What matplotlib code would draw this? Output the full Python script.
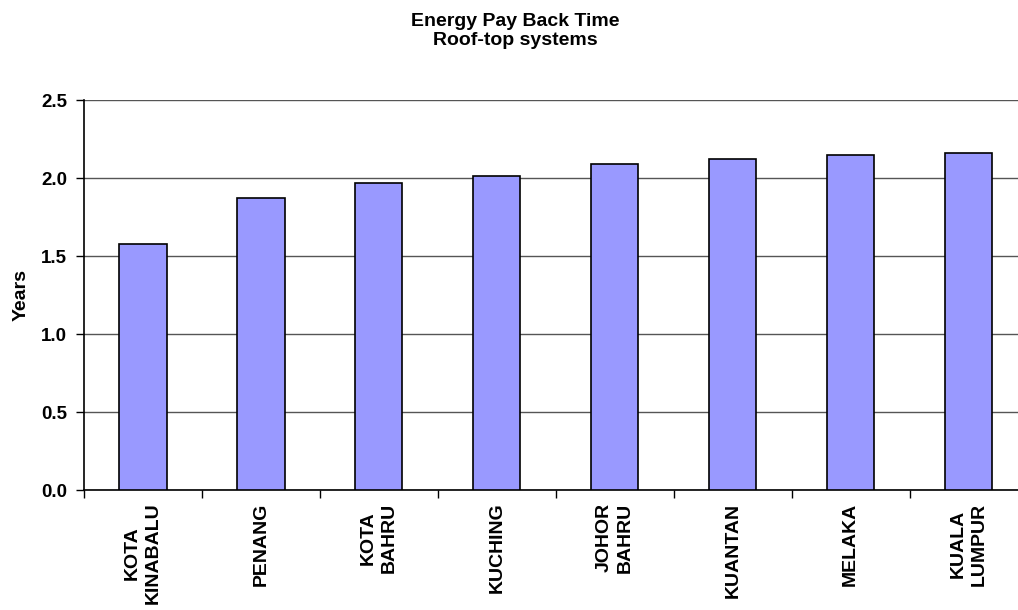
import numpy as np
import matplotlib.pyplot as plt

# energy pay back time per city, roof-top PV systems
cities = ['KOTA\nKINABALU', 'PENANG', 'KOTA\nBAHRU', 'KUCHING',
          'JOHOR\nBAHRU', 'KUANTAN', 'MELAKA', 'KUALA\nLUMPUR']
years = [1.58, 1.87, 1.97, 2.01, 2.09, 2.12, 2.15, 2.16]
yticks = [0.0, 0.5, 1.0, 1.5, 2.0, 2.5]

plt.rcParams['font.family'] = ['Liberation Sans', 'DejaVu Sans']
plt.rcParams['font.weight'] = 'bold'

fig = plt.figure(figsize=(10.18, 6.10), dpi=100)
ax = fig.add_axes([0.0825, 0.1967, 0.927, 0.6393])

x = np.arange(len(cities))
ax.bar(x, years, width=0.4, color='#9999FF', edgecolor='black', linewidth=1.2, zorder=3)

ax.set_xlim(-0.5, len(cities) - 0.5)
ax.set_ylim(0, 2.5)
ax.set_yticks(yticks)
ax.set_yticklabels([f'{v:.1f}' for v in yticks], fontsize=13.5, fontweight='bold')
ax.yaxis.grid(True, color='#555555', linewidth=1.0, zorder=0)

# labels under the bars, tick marks between categories
ax.set_xticks(x)
ax.set_xticklabels(cities, rotation=90, fontsize=14, fontweight='bold',
                   ha='center', va='top', multialignment='center', linespacing=1.3)
ax.tick_params(axis='x', which='major', length=0, pad=9)
ax.set_xticks(np.arange(-0.5, len(cities)), minor=True)
ax.tick_params(axis='x', which='minor', length=6, width=1, direction='out')
ax.tick_params(axis='y', length=6, width=1, direction='out', pad=6)

for side in ['top', 'right']:
    ax.spines[side].set_visible(False)
ax.spines['left'].set_linewidth(1.2)
ax.spines['bottom'].set_linewidth(1.2)

ax.set_ylabel('Years', fontsize=14, fontweight='bold')
ax.yaxis.set_label_coords(-0.058, 0.5)
fig.text(0.506, 0.979, 'Energy Pay Back Time\nRoof-top systems', ha='center', va='top',
         fontsize=14, fontweight='bold', linespacing=1.2)

fig.savefig('out.png', dpi=100)
